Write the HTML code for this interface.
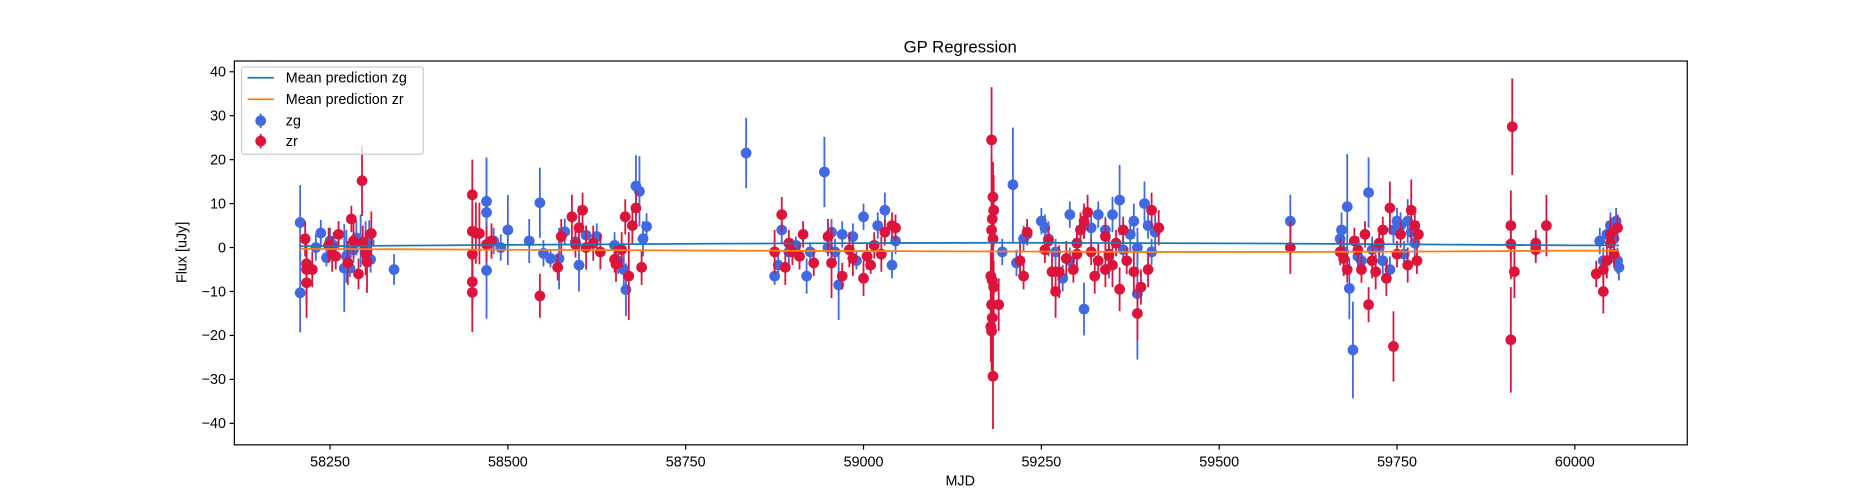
<!DOCTYPE html>
<html><head><meta charset="utf-8"><style>
body{margin:0;background:#fff;}
svg{display:block;font-family:"Liberation Sans","DejaVu Sans",sans-serif;}
</style></head><body>
<svg id="chart" width="1875" height="500" viewBox="0 0 1568 418.1" xmlns="http://www.w3.org/2000/svg">
<rect width="1568" height="418.1" fill="#fff"/>
<text x="803" y="44" font-size="14" text-anchor="middle">GP Regression</text>
<text x="803" y="406" font-size="12" text-anchor="middle">MJD</text>
<text x="156" y="211" font-size="12" text-anchor="middle" transform="rotate(-90 156 211)">Flux [uJy]</text>
<g id="ticks"></g>
<g id="points"></g>
<g id="lines"></g>
<rect x="196" y="51" width="1215" height="321" fill="none" stroke="#000" stroke-width="1"/>
<g>
<rect x="202" y="56" width="152" height="73" rx="2" fill="#fff" fill-opacity="0.8" stroke="#ccc"/>
<line x1="207" y1="65" x2="229" y2="65" stroke="#1f77b4" stroke-width="1.5"/>
<text x="239" y="69" font-size="12">Mean prediction zg</text>
<line x1="207" y1="83" x2="229" y2="83" stroke="#ff7f0e" stroke-width="1.5"/>
<text x="239" y="87" font-size="12">Mean prediction zr</text>
<line x1="218" y1="95" x2="218" y2="107" stroke="#4169e1" stroke-width="1.5"/>
<circle cx="218" cy="101" r="4.5" fill="#4169e1"/>
<text x="239" y="105" font-size="12">zg</text>
<line x1="218" y1="112" x2="218" y2="124" stroke="#dc143c" stroke-width="1.5"/>
<circle cx="218" cy="118" r="4.5" fill="#dc143c"/>
<text x="239" y="122" font-size="12">zr</text>
</g>
</svg>
<script>
const xTicks=[58250,58500,58750,59000,59250,59500,59750,60000];
const yTicks=[40,30,20,10,0,-10,-20,-30,-40];
const zgMjd=[58208,58208,58230,58237,58245,58250,58255,58270,58273,58278,58283,58287,58293,58300,58305,58307,58340,
58470,58470,58470,58480,58490,58500,58530,58545,58550,58560,58572,58580,58595,58600,58610,58625,58650,58655,58663,58666,58680,58685,58690,58695,
58835,
58875,58880,58885,58895,58905,58920,58925,58945,58955,58960,58965,58970,58985,59000,59005,59020,59030,59040,59045,58950,58990,
59195,59210,59215,59225,59230,59250,59255,59260,59270,59280,59290,59300,59310,59310,59320,59330,59340,59345,59350,59360,59365,59375,59380,59385,59395,59400,59405,59410,59385,59290,
59600,
59670,59672,59675,59680,59683,59688,59695,59700,59710,59715,59725,59730,59740,59745,59750,59755,59760,59765,59770,59775,
59945,60035,60045,60050,60055,60060,60062,60058,60040];
const zgFlux=[5.7,-10.3,0,3.3,-2.3,1.5,0.5,-4.7,-2,-4.7,-0.5,2.2,1.5,1,1.2,-2.7,-5,
10.5,8,-5.2,1.5,0,4,1.5,10.2,-1.3,-2.5,-2.5,3.6,1.3,-4,2.8,2.5,0.5,-3,-5,-9.6,14,12.8,2,4.8,
21.5,
-6.5,-4,4,-1,0.5,-6.5,-1,17.2,3.5,-1,-8.5,3,2.5,7,-2,5,8.5,-4,1.5,0,-3,
-1,14.3,-3.5,2,3,6,4.5,2,-1,-7,7.5,1,-14,5,4.5,7.5,4,-2,7.5,10.8,-0.5,3,6,-10.5,10,5,-1,3.5,0,-3,
6,
2,4,-1,9.3,-9.3,-23.3,-2,-3,12.5,-0.5,0,-3,-5,4,6,5,-1.5,6,3.5,1,
0,1.5,3,5,2,-3,-4.5,6,-3];
const zgErr=[8.5,9,3,3,2,3,3,10,6,2,3,4,6,5,5,3,3.5,
10,12,11,3,3,8,5,8,3,2,7,3,2,6,2,3,3,3,4,6,7,8,4,3,
8,
2,3,3,3,2,4,2,8,3,3,8,3,3,3,3,3,4,3,3,2,2,
3,13,3,3,2,3,3,4,3,3,3,4,6,3,3,3,3,5,4,8,3,4,4,15,5,3,3,4,3,3,
6,
3,4,3,12,7,11,3,3,8,3,3,3,3,3,3,3,3,5,3,3,
3,3,3,3,4,3,3,3,3];
const zrMjd=[58215,58217,58217,58217,58225,58248,58253,58258,58262,58275,58280,58283,58290,58295,58296,58300,58302,58308,
58450,58450,58450,58450,58450,58455,58460,58470,58477,58545,58570,58575,58590,58595,58600,58605,58610,58620,58630,58650,58652,58660,58665,58670,58675,58680,58688,
58875,58885,58890,58900,58910,58915,58930,58950,58955,58970,58980,58985,59000,59005,59010,59015,59025,59030,59040,59045,58895,
59180,59182,59183,59181,59180,59182,59179,59181,59183,59180,59181,59179,59180,59182,59190,
59220,59225,59230,59255,59260,59265,59270,59275,59285,59295,59300,59305,59310,59315,59320,59325,59330,59340,59345,59350,59355,59360,59365,59370,59380,59385,59390,59400,59405,59415,59300,59340,
59600,
59670,59675,59680,59690,59695,59700,59705,59710,59715,59720,59725,59730,59735,59740,59745,59750,59755,59765,59770,59775,59778,59780,
59910,59910,59910,59912,59915,59945,59945,59960,
60030,60040,60045,60050,60055,60060,60050,60040];
const zrFlux=[2,-3.7,-5,-8,-5,0.5,-1.5,-2,3,-3.5,6.5,1.5,-6,15.2,1,-1.3,-3.3,3.2,
12,3.7,-1.5,-7.8,-10.2,3.3,3.2,0.7,1.5,-11,-4.5,2.5,7,0.7,4.5,8.5,0,1,-1,-2.7,-3.8,-0.5,7,-6.5,5,9,-4.5,
-1,7.5,-4.5,-1,-2,3,-3.5,2.5,-3.5,-6.5,-0.5,-2.5,-7,-2,-4,0.5,-1.5,3.5,5,4.5,1,
24.5,11.5,8.5,6.5,4,2,-6.5,-7.5,-9,-13,-16,-18,-19,-29.3,-13,
-3,-6.5,3.5,-0.5,1.5,-5.5,-10,-5.5,-2.5,-5,-1.5,4,6,8,-1,-6.5,-3,2.5,-1.5,-4,1,-9.5,4,-3,-5.5,-15,-9,-5,8.5,4.5,1,-5,
0,
-1,-2.5,-5,1.5,-0.5,-5,3,-13,-3,-5.5,1,4,-7,9,-22.5,-1.5,3,-4,8.5,5,-3,3,
5,0.8,-21,27.5,-5.5,1,-0.5,5,
-6,-10,-3,1,-1.5,4.5,3,-5];
const zrErr=[4,5,8,8,4,4,4,3,3,5,3,4,3.5,8,4,5,7,5,
8,6,5,6,9,7,7,4,4,5,3,4,5,3,5,4,5,4,4,3,4,4,4,10,4,4,4,
5,4,4,3,3,3,3,4,8,3,4,4,4,3,2,3,4,3,3,3,3,
12,8,8,8,8,6,6,7,6,8,7,8,9,12,6,
4,3,3,3,3,4,6,6,4,3,3,4,4,4,3,4,4,4,3,5,3,5,3,3,5,6,4,4,4,4,3,4,
6,
3,4,3,3,3,3,3,4,4,4,3,3,4,6,8,3,3,4,7,4,3,3,
8,8,12,11,6,3,3,7,
3,5,4,4,3,3,4,3];
const meanMjd=[58208,58500,58800,59000,59200,59400,59600,59800,60000,60062];
const meanZg=[0.3,0.6,0.9,1.0,1.1,1.0,0.9,0.7,0.5,0.5];
const meanZr=[-0.3,-0.5,-0.7,-0.8,-0.9,-1.0,-1.0,-0.9,-0.7,-0.7];

const NS="http://www.w3.org/2000/svg";
const X0=196,X1=1411,Y0=51,Y1=372;
function xs(v){return 276+(v-58250)*(1041/1750);}
function ys(v){return 207-v*3.675;}
function mk(tag,attrs,parent){const e=document.createElementNS(NS,tag);for(const k in attrs)e.setAttribute(k,attrs[k]);parent.appendChild(e);return e;}
const tg=document.getElementById('ticks');
xTicks.forEach(t=>{const x=xs(t);
  const l=mk('line',{x1:x,x2:x,y1:Y1,y2:Y1+4,stroke:'#000'},tg);
  
  
  const tx=mk('text',{x:x,y:Y1+18,'font-size':12,'text-anchor':'middle'},tg);tx.textContent=t;
  
  
});
yTicks.forEach(t=>{const y=ys(t);
  const l=mk('line',{x1:X0-4,x2:X0,y1:y,y2:y,stroke:'#000'},tg);
  
  
  const tx=mk('text',{x:X0-7,y:y+4,'font-size':12,'text-anchor':'end'},tg);tx.textContent=(t<0?'\u2212'+(-t):t);
  
  
});
const pg=document.getElementById('points');
function series(m,f,e,col,name){
  for(let i=0;i<m.length;i++){
    const g=mk('g',{},pg);
    
    
    const x=xs(m[i]);
    mk('line',{x1:x,x2:x,y1:ys(f[i]+e[i]),y2:ys(f[i]-e[i]),stroke:col,'stroke-width':1.5},g);
    mk('circle',{cx:x,cy:ys(f[i]),r:4.5,fill:col},g);
  }
}
series(zgMjd,zgFlux,zgErr,'#4169e1','zg');
series(zrMjd,zrFlux,zrErr,'#dc143c','zr');
const lg=document.getElementById('lines');
function line(m,v,col,name){
  const p=mk('polyline',{points:m.map((d,i)=>xs(d)+','+ys(v[i])).join(' '),fill:'none',stroke:col,'stroke-width':1.5},lg);
  
  
}
line(meanMjd,meanZg,'#1f77b4','mean-prediction-zg');
line(meanMjd,meanZr,'#ff7f0e','mean-prediction-zr');
</script>
</body></html>
